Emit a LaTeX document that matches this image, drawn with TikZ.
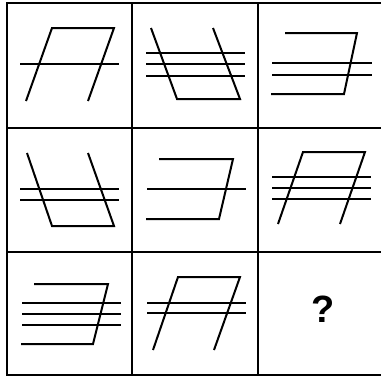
\documentclass[tikz,border=0pt]{standalone}
\usepackage{fontspec}
\setmainfont{Liberation Sans}
\begin{document}
\begin{tikzpicture}[x=1pt,y=-1pt,
  gridline/.style={line width=2.2pt,black},
  figline/.style={line width=2pt,black,line join=miter},
  qmark/.style={font=\bfseries\fontsize{38}{38}\selectfont}]
\useasboundingbox (0,0) rectangle (381,378);
\fill[white] (0,0) rectangle (381,378);
% grid
\foreach \y in {3,128,252,375} \draw[gridline] (6,\y) -- (381,\y);
\foreach \x in {7,132,258} \draw[gridline] (\x,2) -- (\x,376);
% cell 1
\draw[figline] (26,101) -- (52,28) -- (114,28) -- (88,101);
\draw[figline] (20,64) -- (119,64);
% cell 2
\draw[figline] (151,28) -- (177,99) -- (240,99) -- (213,28);
\foreach \y in {53,64,76} \draw[figline] (146,\y) -- (245,\y);
% cell 3
\draw[figline] (285,33) -- (357,33) -- (344,94) -- (271,94);
\foreach \y in {63,75} \draw[figline] (272,\y) -- (372,\y);
% cell 4
\draw[figline] (27,153) -- (52,226) -- (114,226) -- (88,153);
\foreach \y in {189,200} \draw[figline] (20,\y) -- (119,\y);
% cell 5
\draw[figline] (159,159) -- (233,159) -- (219,219) -- (146,219);
\draw[figline] (147,189) -- (246,189);
% cell 6
\draw[figline] (278,224) -- (303,152) -- (365,152) -- (340,224);
\foreach \y in {177,188,199} \draw[figline] (272,\y) -- (371,\y);
% cell 7
\draw[figline] (34,284) -- (108,284) -- (93,344) -- (21,344);
\foreach \y in {303,314,325} \draw[figline] (22,\y) -- (121,\y);
% cell 8
\draw[figline] (153,350) -- (178,277) -- (240,277) -- (214,350);
\foreach \y in {303,313} \draw[figline] (147,\y) -- (246,\y);
% cell 9
\node[qmark] (q) at (323,309) {?};
\end{tikzpicture}
\end{document}
